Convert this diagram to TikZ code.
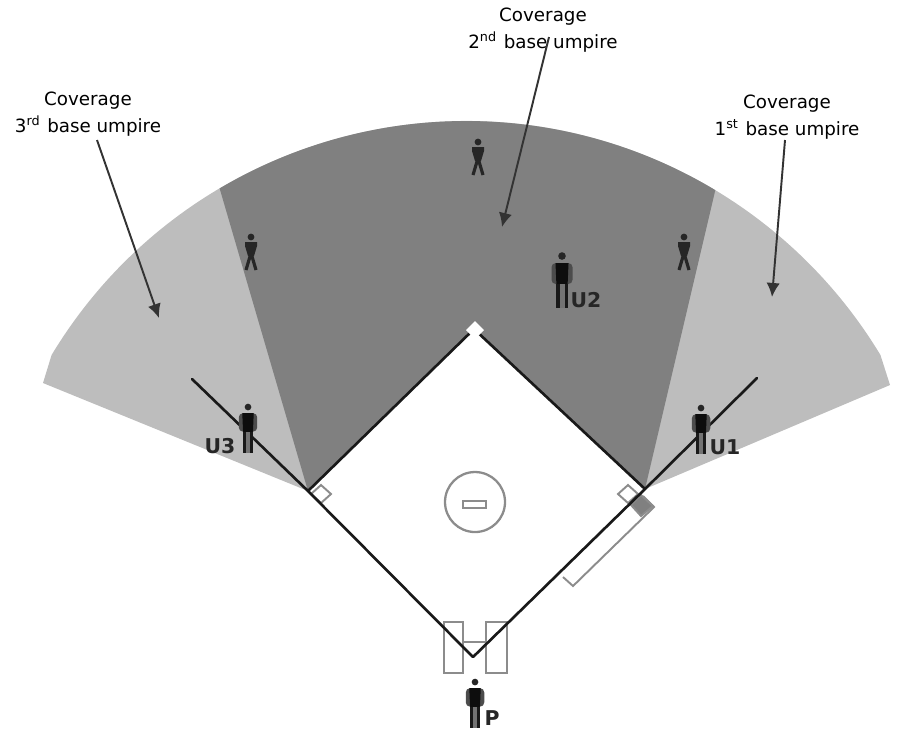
\documentclass[tikz,border=0pt]{standalone}
\usepackage{fontspec}
\setmainfont{DejaVu Sans}
\usetikzlibrary{arrows.meta,calc}

\definecolor{lightfan}{HTML}{BDBDBD}
\definecolor{darkfan}{HTML}{808080}
\definecolor{chalk}{HTML}{8C8C8C}

\tikzset{
  coverage/.style={align=center,inner sep=0pt,font=\fontsize{5.2}{7.7}\selectfont},
  umplabel/.style={inner sep=0pt,text=black!85,font=\fontsize{5.8}{6}\selectfont\bfseries},
  baseline/.style={line width=0.75pt,black!90,line cap=round},
  chalkline/.style={line width=0.55pt,chalk},
  pointer/.style={line width=0.55pt,black!80,-{Latex[length=4pt,width=3.8pt]}},
  standing/.pic={
    \fill[black!85] (0,0) circle (3.8);
    \fill[black!70,rounded corners=1.2pt] (-10.5,7) rectangle (10.5,28);
    \fill[black!95] (-6.5,7) -- (6.5,7) -- (5.5,31) -- (-5.5,31) -- cycle;
    \fill[black!55] (-6,28) rectangle (6,52);
    \fill[black!90] (-6,28) rectangle (-2.5,52);
    \fill[black!90] (2.5,28) rectangle (6,52);
  },
  walking/.pic={
    \fill[black!85] (0,0) circle (3.4);
    \fill[black!85] (-6,5) -- (6,5) -- (6,9) -- (3,19) -- (-3,19) -- (-6,9) -- cycle;
    \draw[black!85,line width=0.9pt] (0,16) -- (-5,33);
    \draw[black!85,line width=0.9pt] (0,16) -- (5,33);
  }
}

\begin{document}
\begin{tikzpicture}[x=0.01cm,y=-0.01cm]
  \useasboundingbox (0,0) rectangle (901,732);

  % corners of the diamond
  \coordinate (home) at (473,657);
  \coordinate (first) at (645,489);
  \coordinate (second) at (474,329);
  \coordinate (third) at (308,491);

  % coverage fans
  \coordinate (fan) at (466,605);
  \fill[lightfan] (third) -- (43,383) -- ($(fan)+(-148.9:484)$)
    arc[start angle=-148.9,end angle=-31.1,radius=484]
    -- (890,385) -- (first) -- (second) -- cycle;
  \fill[darkfan] (third) -- ($(fan)+(-120.6:484)$)
    arc[start angle=-120.6,end angle=-59,radius=484]
    -- (first) -- (second) -- cycle;

  % bases
  \filldraw[chalkline,fill=white] (321,485) -- (331,494) -- (321,503) -- (311,494) -- cycle;
  \filldraw[chalkline,fill=white] (628,485) -- (638,494) -- (628,503) -- (618,494) -- cycle;
  \draw[chalkline] (563,577) -- (573,586) -- (654,507) -- (643,496);
  \filldraw[chalkline,fill=darkfan] (641,495) -- (653,506) -- (641,516) -- (631,505) -- cycle;

  % mound
  \draw[chalkline,line width=0.65pt] (475,502) circle (30);
  \filldraw[chalkline,fill=white] (463,501) rectangle (486,508);

  % batter boxes
  \draw[chalkline] (444,622) rectangle (463,673);
  \draw[chalkline] (486,622) rectangle (507,673);
  \draw[chalkline] (463,642) -- (486,642);

  % foul lines and base paths
  \draw[baseline] (home) -- (first) -- (757,378);
  \draw[baseline] (home) -- (third) -- (192,379);
  \draw[baseline] (third) -- (second) -- (first);
  \fill[white] (475,321) -- (484,330) -- (475,339) -- (466,330) -- cycle;

  % umpires and fielders
  \pic at (562,256) {standing};
  \pic[scale=0.88] at (701,408) {standing};
  \pic[scale=0.88] at (248,407) {standing};
  \pic[scale=0.88] at (475,682) {standing};
  \pic at (684,237) {walking};
  \pic at (478,142) {walking};
  \pic at (251,237) {walking};

  \node[umplabel] (u2) at (586,300) {U2};
  \node[umplabel] (u1) at (725,447) {U1};
  \node[umplabel] (u3) at (220,446) {U3};
  \node[umplabel] (p) at (492,718) {P};

  % coverage labels
  \node[coverage] (cov3) at (88,114) {Coverage\\3\textsuperscript{rd} base umpire};
  \node[coverage] (cov2) at (543,30) {Coverage\\2\textsuperscript{nd} base umpire};
  \node[coverage] (cov1) at (787,117) {Coverage\\1\textsuperscript{st} base umpire};

  % arrows into the fans
  \coordinate (from3) at (97,140);
  \coordinate (into3) at (159,318);
  \coordinate (from2) at (549,37);
  \coordinate (into2) at (502,227);
  \coordinate (from1) at (785,140);
  \coordinate (into1) at (772,297);
  \draw[pointer] (from3) -- (into3);
  \draw[pointer] (from2) -- (into2);
  \draw[pointer] (from1) -- (into1);
\end{tikzpicture}
\end{document}
